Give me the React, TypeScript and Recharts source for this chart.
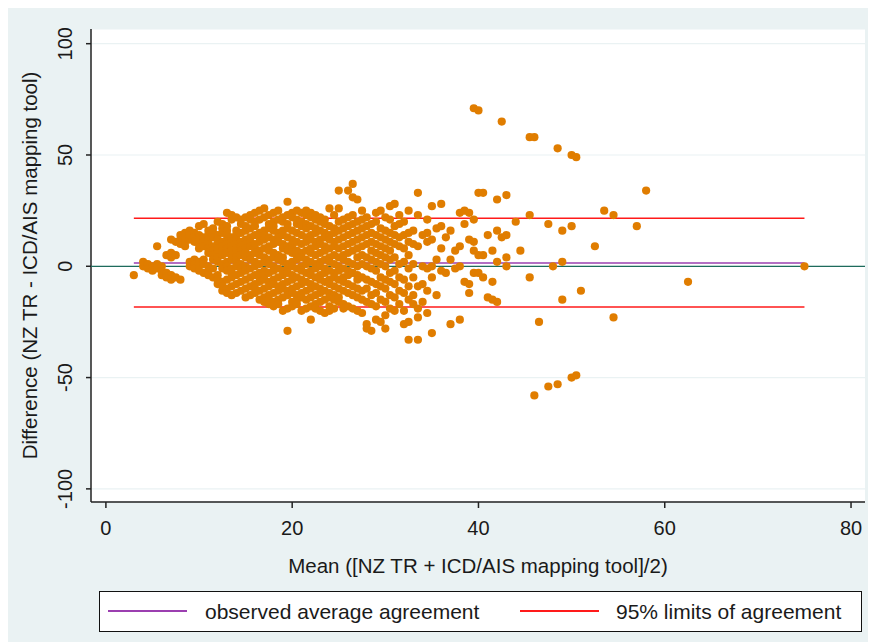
import React from "react";
import { ScatterChart, Scatter, XAxis, YAxis, CartesianGrid } from "recharts";

// Each row: [mean score, ...differences observed at that mean]
const meansBelow12: number[][] = [
  [3, -4],
  [4, 0, 2],
  [4.5, 1, -1],
  [5, 0, -2],
  [5.5, 9, 1, -1],
  [6, 0, -2, -4],
  [6.5, 5, -3, -5],
  [7, 12, 4, 6, -4, -6],
  [7.5, 11, 5, -5],
  [8, 14, 10, 12, -6],
  [8.5, 15, 11, 9, 13],
  [9, 16, 12, 14, 2, 0],
  [9.5, 15, 13, 11, 3, 1, -1],
  [10, 18, 14, 10, 12, 2, -2, 0, 8],
  [10.5, 19, 13, 11, 9, 3, -3, 1],
  [11, 16, 14, 12, 10, 8, 6, 0, -2, -4],
  [11.5, 17, 15, 13, 9, 7, 5, 3, -1, -5],
];

const means12to20: number[][] = [
  [12, 20, 14, 12, 10, 8, 6, 4, 2, -4, -6, -8],
  [12.5, 19, 17, 15, 11, 9, 7, 5, 1, -1, -7, -9, -11],
  [13, 24, 18, 16, 14, 12, 10, 8, 6, 2, 0, -2, -6, -10, -12],
  [13.5, 23, 21, 13, 11, 9, 7, 5, 3, -1, -3, -5, -9, -13],
  [14, 22, 16, 14, 12, 10, 8, 6, 4, 2, 0, -4, -8, -12],
  [14.5, 21, 19, 15, 11, 9, 7, 5, 1, -1, -3, -7, -11],
  [15, 22, 18, 16, 12, 10, 8, 6, 4, 0, -2, -6, -10, -14],
  [15.5, 23, 21, 17, 13, 11, 9, 5, 3, -1, -5, -9, -13],
  [16, 24, 20, 18, 14, 10, 8, 6, 2, 0, -4, -8, -10, -12],
  [16.5, 25, 21, 15, 13, 11, 7, 5, 1, -3, -5, -7, -11, -15],
  [17, 26, 22, 16, 14, 12, 8, 4, 2, -2, -4, -6, -10, -14, -16],
  [17.5, 23, 19, 17, 13, 9, 7, 3, 1, -3, -7, -9, -13, -15, -17],
  [18, 24, 20, 18, 16, 12, 10, 6, 4, 0, -2, -6, -8, -12, -16, -18],
  [18.5, 25, 21, 15, 13, 11, 5, 3, -1, -5, -9, -11, -15, -17],
  [19, 22, 20, 16, 14, 10, 8, 4, 2, -2, -4, -8, -10, -14, -20],
  [19.5, 29, 23, 19, 17, 13, 9, 7, 1, -1, -3, -7, -11, -13, -19, -29],
];

const means20to28: number[][] = [
  [20, 24, 22, 16, 12, 10, 8, 6, 2, 0, -4, -6, -10, -12, -16, -18],
  [20.5, 25, 21, 19, 15, 11, 7, 5, 3, -1, -5, -9, -13, -15, -17],
  [21, 24, 20, 18, 14, 10, 6, 4, 0, -2, -6, -8, -12, -14, -20],
  [21.5, 25, 23, 19, 17, 13, 11, 7, 3, 1, -3, -7, -11, -15, -19],
  [22, 24, 22, 18, 14, 12, 8, 6, 2, -2, -4, -8, -10, -14, -18, -24],
  [22.5, 23, 21, 17, 15, 11, 9, 5, 1, -1, -5, -9, -13, -17, -19],
  [23, 22, 20, 16, 12, 10, 6, 2, 0, -4, -6, -10, -12, -16, -20],
  [23.5, 21, 19, 15, 13, 9, 7, 3, -1, -3, -7, -11, -15, -21],
  [24, 26, 18, 14, 12, 8, 4, 2, -2, -6, -8, -12, -14, -18, -20],
  [24.5, 23, 17, 15, 11, 9, 5, 1, -3, -5, -9, -13, -15, -19],
  [25, 34, 26, 20, 16, 12, 8, 4, 0, -2, -6, -10, -14, -16],
  [25.5, 21, 17, 13, 9, 5, 3, -1, -5, -7, -11, -17, -19],
  [26, 34, 22, 18, 14, 10, 6, 2, -2, -4, -8, -12, -18],
  [26.5, 37, 31, 23, 19, 15, 11, 7, 1, -3, -9, -13, -19],
  [27, 30, 20, 16, 12, 8, 4, 0, -4, -6, -10, -14, -20],
  [27.5, 25, 21, 17, 13, 9, 5, 1, -5, -11, -15, -21],
];

const means28to36: number[][] = [
  [28, 22, 18, 14, 10, 4, 0, -6, -10, -16, -26, -28],
  [28.5, 19, 15, 11, 7, 3, -1, -7, -13, -17, -29],
  [29, 24, 20, 14, 10, 6, 2, -2, -8, -12, -18, -24],
  [29.5, 25, 17, 13, 9, 5, 1, -5, -9, -15, -25],
  [30, 22, 16, 12, 8, 4, 0, -6, -10, -16, -22, -28],
  [30.5, 27, 21, 15, 11, 7, 3, -3, -7, -13, -19],
  [31, 28, 18, 14, 10, 4, -2, -8, -14, -20],
  [31.5, 23, 19, 13, 9, 1, -5, -11, -17],
  [32, 20, 14, 8, 2, -6, -12, -20, -26],
  [32.5, 25, 15, 11, 5, -1, -9, -15, -25, -33],
  [33, 16, 10, 1, -5, -13, -17],
  [33.5, 33, 23, 9, -9, -19, -23, -33],
  [34, 14, 0, -8, -16],
  [34.5, 21, 15, 11, -1, -11, -21],
  [35, 27, 12, 0, -5, -30],
  [35.5, 17, 3, -13],
];

const meansAbove36: number[][] = [
  [36, 28, 18, 8, -2],
  [36.5, 13, -3],
  [37, 16, 3, -26],
  [37.5, 7, -1],
  [38, 24, 9, 0, -24],
  [38.5, 25, 19, -7],
  [39, 24, 12, -8, -12],
  [39.5, 71, 21, 11, 7, -3],
  [40, 70, 33, 5, -3],
  [40.5, 33, 5, -5],
  [41, 14, -14],
  [41.5, 7, -7, -15],
  [42, 30, 16, 2, -16],
  [42.5, 65, 13],
  [43, 32, 4, 0, 14],
  [44, 20],
  [44.5, 7],
  [45.5, 58, 23, -5],
  [46, 58, -58],
  [46.5, -25],
  [47.5, 19, -54],
  [48, 0],
  [48.5, 53, -53],
  [49, 16, 2, -15],
  [50, 50, 18, -50],
  [50.5, 49, -49],
  [51, -11],
  [52.5, 9],
  [53.5, 25],
  [54.5, 23, -23],
  [57, 18],
  [58, 34],
  [62.5, -7],
  [75, 0],
];

const meanDifference = 1.5;
const upperLimit = 21.6;
const lowerLimit = -18.3;
const smallestMean = 3;
const largestMean = 75;

const xTicks = [0, 20, 40, 60, 80];
const yTicks = [-100, -50, 0, 50, 100];
const xDomain: [number, number] = [-1.6, 81.5];
const yDomain: [number, number] = [-105.9, 106.6];

const points = [meansBelow12, means12to20, means20to28, means28to36, meansAbove36].flatMap((band) =>
  band.flatMap(([m, ...ds]) => ds.map((d) => ({ x: m, y: d })))
);

const meanLine = [
  { x: smallestMean, y: meanDifference },
  { x: largestMean, y: meanDifference },
];
const upperLine = [
  { x: smallestMean, y: upperLimit },
  { x: largestMean, y: upperLimit },
];
const lowerLine = [
  { x: smallestMean, y: lowerLimit },
  { x: largestMean, y: lowerLimit },
];
const zeroLine = [
  { x: xDomain[0], y: 0 },
  { x: xDomain[1], y: 0 },
];

const FONT = '"Liberation Sans", Arial, Helvetica, sans-serif';
const TEXT = "#1a1a1a";
const ORANGE = "#e07d00";
const PURPLE = "#9b3fb0";
const RED = "#ff1a1a";
const TEAL = "#1e6b5c";
const BG = "#eaf2f3";

const NoDot = () => <g />;
const Dot = (p: any) => <circle cx={p.cx} cy={p.cy} r={4.1} fill={ORANGE} />;

const XTick = (p: any) => (
  <text x={p.x} y={p.y + 27} textAnchor="middle" fontSize={20} fontFamily={FONT} fill={TEXT}>
    {p.payload.value}
  </text>
);

const YTick = (p: any) => {
  const bx = p.x - 14;
  return (
    <text
      x={bx}
      y={p.y}
      transform={`rotate(-90 ${bx} ${p.y})`}
      textAnchor="middle"
      fontSize={20}
      fontFamily={FONT}
      fill={TEXT}
    >
      {p.payload.value}
    </text>
  );
};

const XTitle = () => (
  <text x={470} y={567} textAnchor="middle" fontSize={20.5} fontFamily={FONT} fill={TEXT}>
    Mean ([NZ TR + ICD/AIS mapping tool]/2)
  </text>
);

const YTitle = () => (
  <text
    x={29}
    y={259.5}
    transform="rotate(-90 29 259.5)"
    textAnchor="middle"
    fontSize={20.5}
    fontFamily={FONT}
    fill={TEXT}
  >
    Difference (NZ TR - ICD/AIS mapping tool)
  </text>
);

export default function App() {
  return (
    <div style={{ position: "relative", width: 868, height: 636, marginTop: -2, background: BG }}>
      <ScatterChart width={868} height={636} margin={{ top: 23, right: 11, bottom: 0, left: 0 }}>
        <CartesianGrid vertical={false} stroke={BG} strokeWidth={1.2} fill="#ffffff" />
        <XAxis
          type="number"
          dataKey="x"
          domain={xDomain}
          ticks={xTicks}
          height={140}
          tickSize={6}
          tickMargin={0}
          tick={<XTick />}
          axisLine={{ stroke: "#222", strokeWidth: 1.5 }}
          tickLine={{ stroke: "#222", strokeWidth: 1.5 }}
          label={{ content: <XTitle /> }}
          allowDataOverflow
        />
        <YAxis
          type="number"
          dataKey="y"
          domain={yDomain}
          ticks={yTicks}
          width={83}
          tickSize={5}
          tickMargin={0}
          tick={<YTick />}
          axisLine={{ stroke: "#222", strokeWidth: 1.5 }}
          tickLine={{ stroke: "#222", strokeWidth: 1.5 }}
          label={{ content: <YTitle /> }}
          allowDataOverflow
        />
        <Scatter data={zeroLine} line={{ stroke: TEAL, strokeWidth: 1.3 }} shape={<NoDot />} isAnimationActive={false} />
        <Scatter data={meanLine} line={{ stroke: PURPLE, strokeWidth: 1.5 }} shape={<NoDot />} isAnimationActive={false} />
        <Scatter data={upperLine} line={{ stroke: RED, strokeWidth: 1.5 }} shape={<NoDot />} isAnimationActive={false} />
        <Scatter data={lowerLine} line={{ stroke: RED, strokeWidth: 1.5 }} shape={<NoDot />} isAnimationActive={false} />
        <Scatter data={points} shape={<Dot />} isAnimationActive={false} />
      </ScatterChart>
      <div
        style={{
          position: "absolute",
          left: 91,
          top: 585,
          width: 761,
          height: 39,
          border: "1px solid #111",
          background: "#ffffff",
          fontFamily: FONT,
          fontSize: 21,
          color: TEXT,
        }}
      >
        <div style={{ position: "absolute", left: 8, top: 18, width: 79, height: 2, background: PURPLE }} />
        <div style={{ position: "absolute", left: 105, top: 0, height: 39, lineHeight: "39px", whiteSpace: "nowrap" }}>
          observed average agreement
        </div>
        <div style={{ position: "absolute", left: 420, top: 18, width: 79, height: 2, background: RED }} />
        <div style={{ position: "absolute", left: 516, top: 0, height: 39, lineHeight: "39px", whiteSpace: "nowrap" }}>
          95% limits of agreement
        </div>
      </div>
    </div>
  );
}
